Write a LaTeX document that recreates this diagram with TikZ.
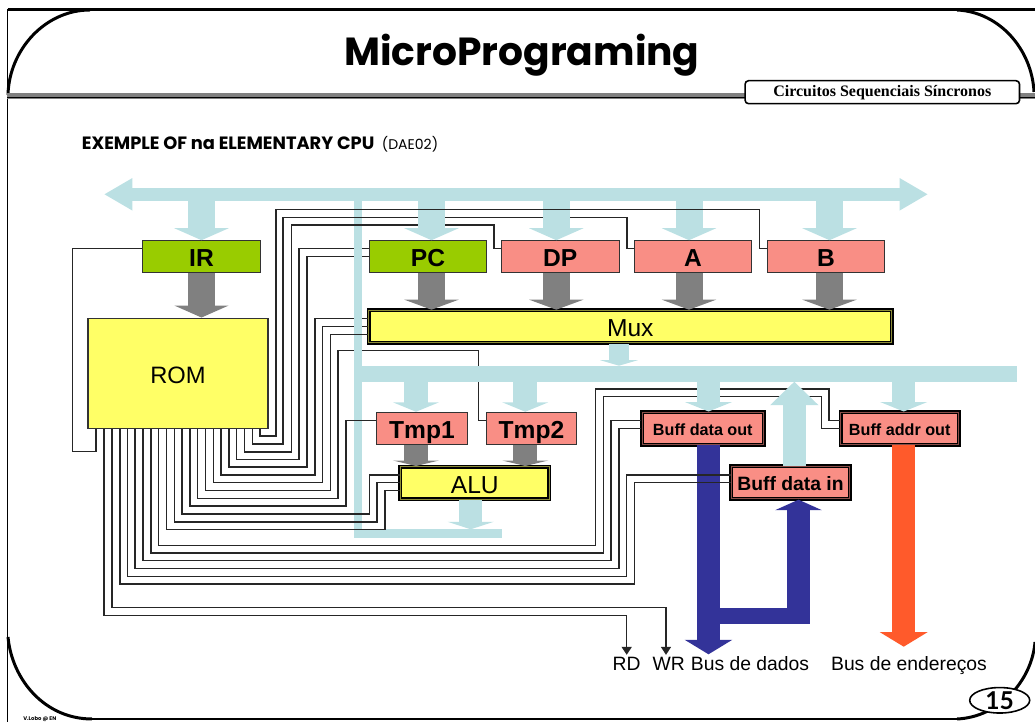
\documentclass[tikz,border=0pt]{standalone}
\usepackage{fontspec}
\setmainfont{Liberation Sans}
\newfontfamily\titlefont{Poppins}
\newfontfamily\tagfont{Liberation Serif}
\newfontfamily\pagefont{Lato}
\usetikzlibrary{positioning, shapes.geometric, arrows.meta}
\definecolor{busblue}{HTML}{BBE0E3}
\definecolor{busgray}{HTML}{808080}
\definecolor{busnavy}{HTML}{333399}
\definecolor{busorange}{HTML}{FF5A2B}
\definecolor{regyellow}{HTML}{FFFF66}
\definecolor{reggreen}{HTML}{99CC00}
\definecolor{regred}{HTML}{F98E85}
\newcommand{\fsize}[1]{\fontsize{#1}{#1}\selectfont}

\begin{document}
\begin{tikzpicture}[
    x=0.02cm, y=-0.02cm,
    reg/.style={fill=#1, draw=black!80, line width=0.6pt, inner sep=0pt, minimum width=2.35cm, minimum height=0.63cm, text height=11.5pt, text depth=0pt, font=\fsize{14}\bfseries},
    dbl/.style={fill=#1, draw=black, line width=0.85pt, double=#1!55!black, double distance=0.55pt, inner sep=0pt, minimum height=0.65cm, text height=11.5pt, text depth=0pt},
    fat/.style n args={4}{draw=#1, line width=#2cm, -{Triangle[length=#3cm, width=#4cm]}},
    wire/.style={draw=black!85, line width=0.9pt},
    busname/.style={font=\fsize{11}, anchor=base, inner sep=0.05cm},
    frameline/.style={line width=1.7pt}
]
    \useasboundingbox (0,0) rectangle (1035,722);

    % Frame
    \draw[line width=1pt] (7.5,722) -- (7.5,9.5);
    \draw[frameline] (7.5,9.5) -- (1035,9.5);
    \draw[frameline] (8,95) .. controls (9,50) and (45,10) .. (90,10);
    \draw[frameline] (957,10) .. controls (1000,12) and (1032,50) .. (1034,92);
    \draw[frameline] (8,637) .. controls (12,680) and (45,719) .. (92,719);
    \draw[frameline] (92,719) -- (957,719);
    \draw[frameline] (957,719) .. controls (1000,717) and (1032,680) .. (1035,642);
    \draw[busgray, line width=3.2pt] (7,96) -- (1035,96);
    \draw[black, line width=0.6pt] (7,97.2) -- (1035,97.2);

    % Titles
    \node[font=\titlefont\fsize{22.3}\bfseries] (Title) at (522,55) {MicroPrograming};
    \node[fill=white, draw=black, line width=0.9pt, rounded corners=2pt, minimum width=5.49cm, minimum height=0.46cm, inner sep=0pt, font=\tagfont\fsize{9.1}\bfseries] (Tag) at (882.3,92.2) {Circuitos Sequenciais Síncronos};
    \node[anchor=base west, inner sep=0pt, font=\titlefont\fsize{10.15}\bfseries] (Sub) at (81.5,149.5) {EXEMPLE OF na ELEMENTARY CPU \fsize{8}\mdseries\ (DAE02)};
    \node[anchor=base west, inner sep=0pt, font=\titlefont\fsize{3}\bfseries] (Sign) at (23,720.5) {V.Lobo @ EN};
    \node[ellipse, fill=white, draw=black, line width=0.9pt, minimum width=1.2cm, minimum height=0.49cm, inner sep=0pt, font=\pagefont\fsize{14}\bfseries] (Page) at (999.7,700.3) {15};

    % Registers
    \node[reg=reggreen] (IR) at (201.5,256.5) {IR};
    \node[reg=reggreen] (PC) at (428,256.5) {PC};
    \node[reg=regred] (DP) at (560.3,256.5) {DP};
    \node[reg=regred] (A) at (693,256.5) {A};
    \node[reg=regred] (B) at (826,256.5) {B};
    \node[reg=regred, minimum width=1.81cm, minimum height=0.64cm] (Tmp1) at (422,428.3) {Tmp1};
    \node[reg=regred, minimum width=1.81cm, minimum height=0.64cm] (Tmp2) at (531.5,428.3) {Tmp2};

    % Combinational blocks
    \node[reg=regyellow, minimum width=3.6cm, minimum height=2.21cm, text height=11.2pt, font=\fsize{13.5}] (ROM) at (178,373.3) {ROM};
    \node[dbl=regyellow, minimum width=10.46cm, font=\fsize{14}] (Mux) at (630.3,326.7) {Mux};
    \node[dbl=regyellow, minimum width=2.98cm, font=\fsize{14}] (ALU) at (474.8,483) {ALU};

    % Buffers
    \node[dbl=regred, minimum width=2.43cm, text height=8.1pt, font=\fsize{9.2}\bfseries] (BuffOut) at (702.8,428.5) {Buff data out};
    \node[dbl=regred, minimum width=2.36cm, text height=8.1pt, font=\fsize{9.2}\bfseries] (BuffAddr) at (899.7,428.5) {Buff addr out};
    \node[dbl=regred, minimum width=2.37cm, text height=9.4pt, font=\fsize{11}\bfseries] (BuffIn) at (790.5,482.7) {Buff data in};

    % Pin names
    \node[busname] (RD) at (626.7,671) {RD};
    \node[busname] (WR) at (668.7,671) {WR};
    \node[busname] (DataBus) at (750,671) {Bus de dados};
    \node[busname] (AddrBus) at (909,671) {Bus de endereços};
    \coordinate (TopBus) at (0,194.3);
    \coordinate (MidBus) at (0,374);
    \coordinate (MidTop) at (0,365.7);
    \coordinate (MidLow) at (0,381.7);
    \coordinate (LowBus) at (0,529.3);
    \coordinate (DataEnd) at (708.5,654.3);
    \coordinate (AddrEnd) at (903.7,646.7);
    \coordinate (LoopTurn) at (798.5,616);

    % Wires under the bus
    \foreach \wx/\wy/\vx/\ty/\dest in {229/467/307/256.7/PC, 236.7/459.3/299/248.7/PC, 221/475/315/318.7/Mux, 213.3/482.7/322.7/326.7/Mux}
        \draw[wire] (\wx,0 |- ROM.south) -- (\wx,\wy) -- (\vx,\wy) -- (\vx,\ty) -- (\dest.west |- 0,\ty);
    \draw[wire] (197.7,0 |- ROM.south) -- (197.7,498.7) -- (338,498.7) -- (338,350.3) -- (478.3,350.3) -- (478.3,420.7) -- (Tmp2.west |- 0,420.7);

    % Internal buses
    \fill[busblue] (354,201) rectangle (362,537.7);
    \fill[busblue] (354,529.3) rectangle (502,537.7);
    \fill[busblue] (362,366) rectangle (1017,381.7);
    \draw[busblue, line width=0.266cm, {Triangle[length=0.57cm, width=0.61cm]}-{Triangle[length=0.57cm, width=0.61cm]}] (104,194.3) -- (928,194.3);

    % Wires over the bus
    \foreach \wx/\wy/\vx/\ty/\dest in {205.7/490.7/330.3/334.7/Mux, 190/506/346/420.3/Tmp1, 182/514/369.3/475/ALU, 174.3/522/377/482.7/ALU, 166.7/529.3/385/490.7/ALU, 143/560.7/611/420.7/BuffOut, 135/568.7/619/428.3/BuffOut}
        \draw[wire] (\wx,0 |- ROM.south) -- (\wx,\wy) -- (\vx,\wy) -- (\vx,\ty) -- (\dest.west |- 0,\ty);
    \foreach \wx/\wy/\vx/\hy/\dx/\ty/\dest in {252.3/444/283/217.7/627/248.7/A, 244.7/452/291.5/225/494/248.7/DP, 158.7/545.3/595.7/389/829/420.7/BuffAddr, 151/553/603.3/396.7/821.7/428.3/BuffAddr}
        \draw[wire] (\wx,0 |- ROM.south) -- (\wx,\wy) -- (\vx,\wy) -- (\vx,\hy) -- (\dx,\hy) -- (\dx,\ty) -- (\dest.west |- 0,\ty);

    % Bus to register arrows
    \foreach \bx/\dest in {201.5/IR, 431.5/PC, 556.3/DP, 689/A, 829.5/B}
        \draw[fat={busblue}{0.54}{0.24}{1.08}] (\bx,0 |- TopBus) -- (\bx,0 |- \dest.north);
    \foreach \bx/\dest in {416/Tmp1, 525.3/Tmp2}
        \draw[fat={busblue}{0.48}{0.19}{0.92}] (\bx,0 |- MidBus) -- (\bx,0 |- \dest.north);
    \foreach \bx/\dest in {708.5/BuffOut, 903.7/BuffAddr}
        \draw[fat={busblue}{0.47}{0.19}{0.94}] (\bx,0 |- MidBus) -- (\bx,0 |- \dest.north);
    \draw[fat={busblue}{0.39}{0.11}{0.75}] (619,0 |- Mux.south) -- (619,0 |- MidTop);
    \draw[fat={busblue}{0.47}{0.15}{0.92}] (470.7,0 |- ALU.south) -- (470.7,0 |- LowBus);
    \draw[fat={busblue}{0.47}{0.47}{0.94}] (794.3,0 |- BuffIn.north) -- (794.3,0 |- MidLow);

    % Register to mux arrows
    \draw[fat={busgray}{0.54}{0.24}{1.08}] (IR.south) -- (201.5,0 |- ROM.north);
    \foreach \bx/\dest in {431.5/PC, 556.3/DP, 689/A, 829.5/B}
        \draw[fat={busgray}{0.54}{0.2}{1.08}] (\bx,0 |- \dest.south) -- (\bx,0 |- Mux.north);
    \foreach \bx/\dest in {416/Tmp1, 525.3/Tmp2}
        \draw[fat={busgray}{0.48}{0.11}{0.92}] (\bx,0 |- \dest.south) -- (\bx,0 |- ALU.north);

    % External buses
    \draw[fat={busnavy}{0.47}{0.29}{0.94}] (708.5,0 |- BuffOut.south) -- (DataEnd);
    \draw[busnavy, line width=0.31cm] (720,0 |- LoopTurn) -- (810,0 |- LoopTurn);
    \draw[fat={busnavy}{0.46}{0.21}{0.93}] (LoopTurn) -- (798.5,0 |- BuffIn.south);
    \draw[fat={busorange}{0.46}{0.29}{0.94}] (903.7,0 |- BuffAddr.south) -- (AddrEnd);

    % Remaining wires
    \draw[wire] (260,0 |- ROM.south) -- (260,436) -- (276,436) -- (276,209.7) -- (759.3,209.7) -- (759.3,248.7) -- (B.west |- 0,248.7);
    \foreach \wx/\wy/\vx/\ty/\dest in {127.7/576.7/626.7/475/BuffIn, 120/584/634.7/482.7/BuffIn}
        \draw[wire] (\wx,0 |- ROM.south) -- (\wx,\wy) -- (\vx,\wy) -- (\vx,\ty) -- (\dest.west |- 0,\ty);
    \draw[wire] (96,0 |- ROM.south) -- (96,451.7) -- (72.7,451.7) -- (72.7,248.7) -- (IR.west |- 0,248.7);
    \draw[wire, -{Triangle[length=0.16cm, width=0.2cm]}] (104,0 |- ROM.south) -- (104,615.7) -- (626.7,615.7) -- (RD.north);
    \draw[wire, -{Triangle[length=0.16cm, width=0.2cm]}] (112,0 |- ROM.south) -- (112,607.7) -- (666,607.7) -- (666,0 |- WR.north);
\end{tikzpicture}
\end{document}
